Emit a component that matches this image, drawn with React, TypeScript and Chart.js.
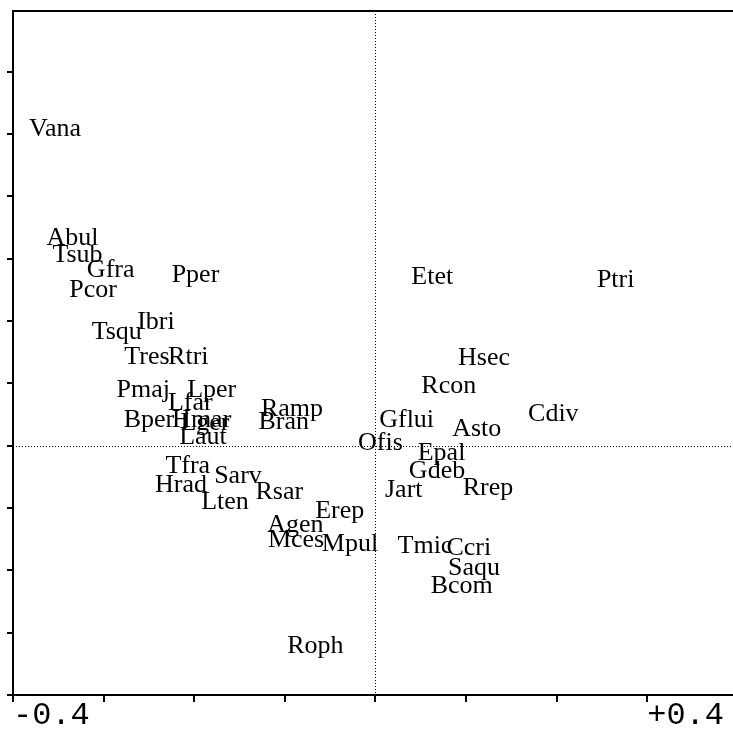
import React, { useEffect, useRef } from 'react';
import { Chart, registerables } from 'chart.js';

Chart.register(...registerables);

const speciesLabels = [
  'Vana', 'Abul', 'Tsub', 'Gfra', 'Pcor', 'Pper', 'Ibri', 'Tsqu', 'Tres', 'Rtri',
  'Pmaj', 'Lper', 'Lfar', 'Ramp', 'Bran', 'Bper', 'Hmar', 'Lger', 'Laut', 'Ofis',
  'Tfra', 'Sarv', 'Hrad', 'Rsar', 'Lten', 'Erep', 'Agen', 'Mces', 'Mpul', 'Hsec',
  'Rcon', 'Gflui', 'Asto', 'Epal', 'Gdeb', 'Jart', 'Rrep', 'Tmic', 'Ccri', 'Saqu',
  'Bcom', 'Etet', 'Ptri', 'Cdiv', 'Roph',
];

const axis1 = [
  -0.3536, -0.3343, -0.3288, -0.2922, -0.3117, -0.1986, -0.2422, -0.2855, -0.2521, -0.2065,
  -0.2562, -0.1807, -0.2043, -0.0921, -0.1012, -0.2499, -0.1917, -0.1881, -0.1903, 0.0056,
  -0.2071, -0.1517, -0.2146, -0.1061, -0.166, -0.0394, -0.0884, -0.0876, -0.028, 0.1199,
  0.081, 0.0345, 0.1118, 0.073, 0.068, 0.0313, 0.1243, 0.0547, 0.1031, 0.1088,
  0.0953, 0.0627, 0.2652, 0.1964, -0.0663,
];

const axis2 = [
  0.508, 0.3329, 0.3064, 0.2816, 0.2495, 0.2736, 0.1982, 0.1822, 0.1426, 0.1421,
  0.0885, 0.0897, 0.0684, 0.0593, 0.0372, 0.0404, 0.0412, 0.0364, 0.0131, 0.0043,
  -0.0325, -0.0486, -0.0638, -0.0742, -0.0902, -0.1054, -0.1271, -0.1511, -0.1575, 0.1405,
  0.0952, 0.0407, 0.0268, -0.0112, -0.0405, -0.0715, -0.0683, -0.1612, -0.1639, -0.196,
  -0.2248, 0.2704, 0.2655, 0.05, -0.3221,
];

const xTickValues = [-0.4, 0.3];
const xTickTexts = ['-0.4', '+0.4'];

const X_MIN = -0.4;
const X_MAX = 0.3936;
const Y_MIN = -0.4;
const Y_MAX = 0.6975;
const TICK_STEP = 0.1;

const tenthTicks = (scale: any) => {
  const out: any[] = [];
  const start = Math.ceil(scale.min / TICK_STEP - 1e-9);
  const end = Math.floor(scale.max / TICK_STEP + 1e-9);
  for (let k = start; k <= end; k++) {
    out.push({ value: Math.round(k * TICK_STEP * 1000) / 1000 });
  }
  scale.ticks = out;
};

const labelPlugin = {
  id: 'speciesLabels',
  beforeDatasetsDraw(chart: any) {
    const { ctx, chartArea, scales } = chart;
    const x0 = Math.round(scales.x.getPixelForValue(0)) + 0.5;
    const y0 = Math.round(scales.y.getPixelForValue(0)) + 0.5;
    ctx.save();
    ctx.strokeStyle = '#000';
    ctx.lineWidth = 1;
    ctx.setLineDash([1, 2]);
    ctx.beginPath();
    ctx.moveTo(x0, chartArea.top);
    ctx.lineTo(x0, chartArea.bottom);
    ctx.stroke();
    ctx.beginPath();
    ctx.moveTo(chartArea.left, y0);
    ctx.lineTo(chartArea.right, y0);
    ctx.stroke();
    ctx.restore();
  },
  afterDatasetsDraw(chart: any) {
    const { ctx } = chart;
    const meta = chart.getDatasetMeta(0);
    ctx.save();
    ctx.fillStyle = '#000';
    ctx.font = '26px "Liberation Serif"';
    ctx.textAlign = 'center';
    ctx.textBaseline = 'middle';
    meta.data.forEach((el: any, i: number) => {
      ctx.fillText(speciesLabels[i], el.x, el.y);
    });
    ctx.restore();
  },
};

export default function App() {
  const canvasRef = useRef<HTMLCanvasElement | null>(null);

  useEffect(() => {
    document.body.style.margin = '0';
    const canvas = canvasRef.current;
    if (!canvas) return;
    const points = axis1.map((v, i) => ({ x: v, y: axis2[i] }));
    const chart = new Chart(canvas, {
      type: 'scatter',
      data: {
        datasets: [
          {
            data: points,
            pointRadius: 0,
            pointHoverRadius: 0,
            showLine: false,
          },
        ],
      },
      options: {
        animation: false,
        responsive: false,
        events: [],
        layout: { padding: { top: 10, left: 0, right: 1, bottom: 0 }, autoPadding: false },
        plugins: { legend: { display: false }, tooltip: { enabled: false } },
        scales: {
          x: {
            type: 'linear',
            position: 'bottom',
            min: X_MIN,
            max: X_MAX,
            afterBuildTicks: tenthTicks,
            afterFit: (s: any) => {
              s.height = 38;
            },
            border: { display: true, color: '#000', width: 2 },
            grid: { drawOnChartArea: false, drawTicks: true, tickLength: 7, color: '#000', lineWidth: 2 },
            ticks: {
              autoSkip: false,
              maxRotation: 0,
              minRotation: 0,
              align: 'start',
              padding: -2,
              color: '#000',
              font: { family: '"Liberation Mono", monospace', size: 32, lineHeight: 1 },
              callback: (v: any) => {
                const idx = xTickValues.findIndex((t) => Math.abs(t - Number(v)) < 1e-6);
                return idx >= 0 ? xTickTexts[idx] : '';
              },
            },
          },
          xTop: {
            type: 'linear',
            position: 'top',
            axis: 'x',
            min: X_MIN,
            max: X_MAX,
            afterFit: (s: any) => {
              s.height = 1;
            },
            border: { display: true, color: '#000', width: 2 },
            grid: { display: false, drawOnChartArea: false, drawTicks: false },
            ticks: { display: false },
          },
          y: {
            type: 'linear',
            position: 'left',
            min: Y_MIN,
            max: Y_MAX,
            afterBuildTicks: tenthTicks,
            afterFit: (s: any) => {
              s.width = 13;
            },
            border: { display: true, color: '#000', width: 2 },
            grid: { drawOnChartArea: false, drawTicks: true, tickLength: 6, color: '#000', lineWidth: 2 },
            ticks: { display: false, autoSkip: false },
          },
        },
      },
      plugins: [labelPlugin],
    } as any);
    return () => chart.destroy();
  }, []);

  return (
    <div style={{ position: 'absolute', left: 0, top: 0, width: 733, height: 733, background: '#fff' }}>
      <canvas ref={canvasRef} width={733} height={733} style={{ width: 733, height: 733, display: 'block' }} />
    </div>
  );
}
